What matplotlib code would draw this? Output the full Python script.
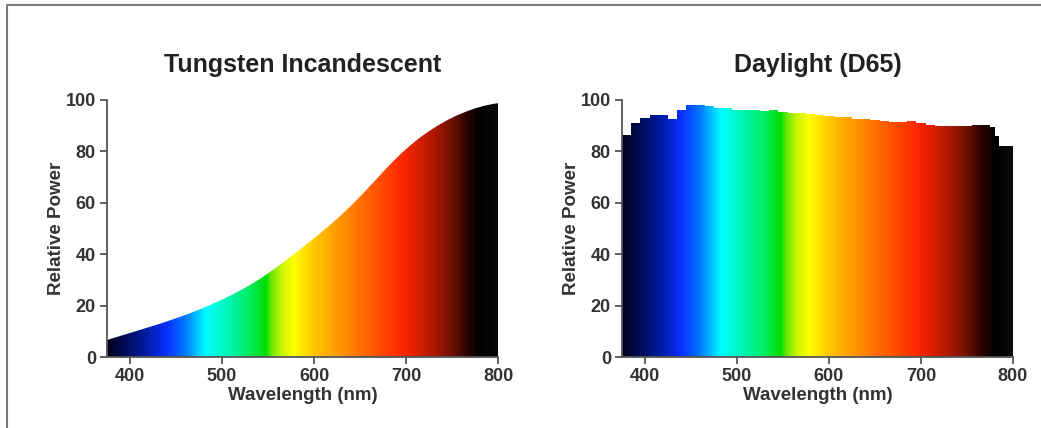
import numpy as np
import matplotlib
matplotlib.use("Agg")
import matplotlib.pyplot as plt
from matplotlib.colors import LinearSegmentedColormap
from matplotlib.lines import Line2D

# ---------------- data ----------------
titles = ["Tungsten Incandescent", "Daylight (D65)"]
x_label = "Wavelength (nm)"
y_label = "Relative Power"
x_ticks = [400, 500, 600, 700, 800]
y_ticks = [0, 20, 40, 60, 80, 100]

tungsten_wl = [375, 385, 395, 405, 415, 425, 435, 445, 455, 465,
               475, 485, 495, 505, 515, 525, 535, 545, 555, 565,
               575, 585, 595, 605, 615, 625, 635, 645, 655, 665,
               675, 685, 695, 705, 715, 725, 735, 745, 755, 765,
               775, 785, 795, 800]
tungsten_power = [6.6, 7.7, 8.8, 9.9, 11.0, 12.1, 13.25, 14.45, 15.7, 17.0,
                  18.4, 19.9, 21.5, 23.2, 25.0, 26.9, 29.0, 31.3, 33.8, 36.4,
                  39.1, 41.9, 44.75, 47.65, 50.65, 53.75, 57.05, 60.55, 64.25, 68.1,
                  72.0, 75.75, 79.25, 82.45, 85.35, 87.9, 90.15, 92.2, 93.95, 95.45,
                  96.75, 97.75, 98.5, 98.75]

d65_wl = [375, 385, 395, 405, 415, 425, 435, 445, 455, 465,
          475, 485, 495, 505, 515, 525, 535, 545, 555, 565,
          575, 585, 595, 605, 615, 625, 635, 645, 655, 665,
          675, 685, 695, 705, 715, 725, 735, 745, 755, 765,
          775, 780, 785, 795]
d65_power = [86.5, 91.0, 93.0, 94.0, 94.0, 92.5, 96.0, 98.0, 98.2, 97.5,
             97.0, 96.7, 96.3, 96.0, 96.0, 95.8, 96.0, 95.5, 95.0, 94.8,
             94.4, 94.0, 93.8, 93.5, 93.2, 92.8, 92.5, 92.3, 91.8, 91.3,
             91.5, 91.8, 91.0, 90.2, 90.0, 90.0, 90.0, 89.7, 90.3, 90.3,
             89.5, 86.0, 82.0, 82.0]

# colour ramp of the visible spectrum (wavelength, colour)
spectrum_wl = [375, 395, 415, 440, 460, 483, 510, 530, 548, 553, 565, 578,
               600, 622, 650, 675, 695, 710, 730, 750, 765, 780, 800]
spectrum_col = ["#00001a", "#000c5a", "#001a9a", "#0a30ff", "#0078ff", "#00ffff",
                "#00f5a8", "#00ec60", "#00dd00", "#60e800", "#c8f500", "#ffff00",
                "#ffc800", "#ffa000", "#ff7000", "#ff4800", "#ff2800", "#e02000",
                "#b01800", "#701000", "#300400", "#000000", "#0a0a0a"]

X_MIN, X_MAX = 375, 800

# ---------------- figure ----------------
plt.rcParams["font.family"] = ["Liberation Sans", "DejaVu Sans"]
fig = plt.figure(figsize=(10.41, 4.28), dpi=100)

positions = [[107 / 1041, 1 - 357 / 428, 391 / 1041, 257 / 428],
             [622 / 1041, 1 - 357 / 428, 391 / 1041, 257 / 428]]

stops = [(w - X_MIN) / (X_MAX - X_MIN) for w in spectrum_wl]
cmap = LinearSegmentedColormap.from_list("spectrum", list(zip(stops, spectrum_col)), N=1024)
ramp = np.linspace(0, 1, 1024)[None, :]

text_col = "#333333"

for i, pos in enumerate(positions):
    ax = fig.add_axes(pos)
    if i == 0:
        poly = ax.fill_between(tungsten_wl, tungsten_power, 0, facecolor="none", edgecolor="none")
    else:
        xs = list(d65_wl) + [X_MAX]
        ys = list(d65_power) + [d65_power[-1]]
        poly = ax.fill_between(xs, ys, 0, step="post", facecolor="none", edgecolor="none")
    im = ax.imshow(ramp, cmap=cmap, aspect="auto", extent=[X_MIN, X_MAX, 0, 100],
                   interpolation="bilinear", origin="lower", zorder=1)
    im.set_clip_path(poly.get_paths()[0], ax.transData)

    ax.set_xlim(X_MIN, X_MAX)
    ax.set_ylim(0, 100)
    ax.set_xticks(x_ticks)
    ax.set_yticks(y_ticks)
    for s in ["top", "right"]:
        ax.spines[s].set_visible(False)
    for s in ["left", "bottom"]:
        ax.spines[s].set_color("#555555")
        ax.spines[s].set_linewidth(1.3)
        ax.spines[s].set_zorder(3)
    ax.tick_params(axis="both", length=5, width=1.3, color="#555555",
                   labelsize=13, labelcolor=text_col, pad=3)
    for lab in ax.get_xticklabels() + ax.get_yticklabels():
        lab.set_fontweight("bold")
    ax.set_xlabel(x_label, fontsize=13.5, fontweight="bold", color=text_col, labelpad=1)
    ax.set_ylabel(y_label, fontsize=13.5, fontweight="bold", color=text_col, labelpad=0.5)
    ax.set_title(titles[i], fontsize=18, fontweight="bold", color="#222222", pad=20)

# gray frame lines (top and left)
fig.add_artist(Line2D([7 / 1041, 7 / 1041, 1.0], [0.0, 1 - 5 / 428, 1 - 5 / 428],
                      transform=fig.transFigure, color="#7a7a7a", lw=1.5))

fig.savefig("out.png", dpi=100)
